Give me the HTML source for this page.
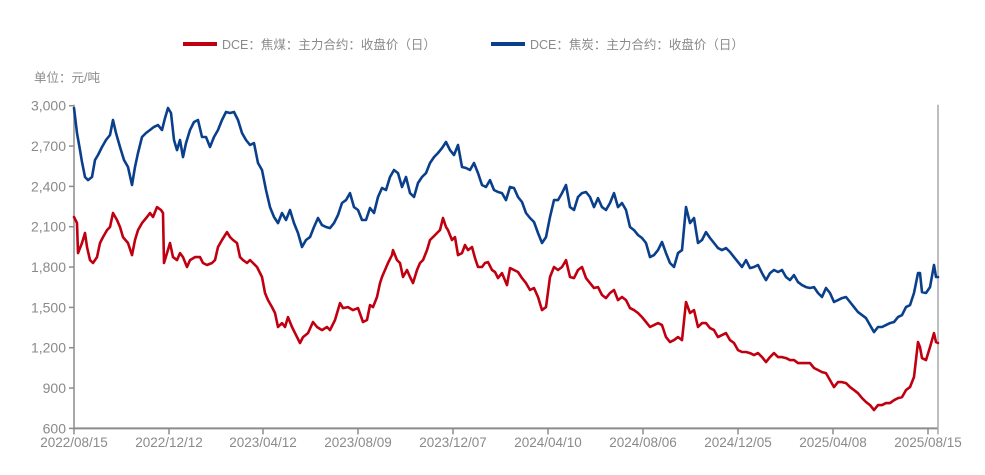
<!DOCTYPE html>
<html><head><meta charset="utf-8">
<style>
html,body{margin:0;padding:0;background:#fff;}
#wrap{position:relative;width:985px;height:475px;overflow:hidden;font-family:"Liberation Sans","Noto Sans CJK SC",sans-serif;}
svg text{font-family:"Liberation Sans","Noto Sans CJK SC",sans-serif;}
</style></head>
<body>
<div id="wrap">
<svg id="chart" width="985" height="475">
  <g>
    <g>
      <line x1="183" y1="44" x2="217" y2="44" stroke="#c00011" stroke-width="4"/>
      <text x="222" y="49" font-size="12.5" fill="#8a8a8a">DCE：焦煤：主力合约：收盘价（日）</text>
    </g>
    <g>
      <line x1="491" y1="44" x2="525" y2="44" stroke="#0a3f8c" stroke-width="4"/>
      <text x="530" y="49" font-size="12.5" fill="#8a8a8a">DCE：焦炭：主力合约：收盘价（日）</text>
    </g>
  </g>
  <text x="34" y="82" font-size="12.5" fill="#8a8a8a">单位：元/吨</text>
  <g id="axes"></g>
  <g id="series"></g>
</svg>
</div>
<script>
const yTicks = [600, 900, 1200, 1500, 1800, 2100, 2400, 2700, 3000];
const xTickLabels = ["2022/08/15","2022/12/12","2023/04/12","2023/08/09","2023/12/07","2024/04/10","2024/08/06","2024/12/05","2025/04/08","2025/08/15"];
const xTickDays = [0,95,189,284,379,474,569,664,759,854];

const cokeDays = [0,3,6,8,11,14,18,21,24,28,32,36,39,42,46,50,54,58,61,64,68,72,76,80,84,88,91,94,97,100,103,106,109,112,116,120,124,128,132,136,140,
144,148,152,156,160,164,168,172,176,180,184,188,192,196,200,204,208,212,216,220,224,228,232,236,240,244,248,252,256,260,264,268,272,276,280,284,288,
292,296,300,304,308,312,316,320,324,328,332,336,340,344,348,352,356,360,364,368,372,376,380,384,388,392,396,400,404,408,412,416,420,424,428,432,
436,440,444,448,452,456,460,464,468,472,476,480,484,488,492,496,500,504,508,512,516,520,524,528,532,536,540,544,548,552,556,560,564,568,572,576,580,584,588,592,596,600,604,608,612,616,620,624,628,632,636,640,644,648,652,656,660,664,668,672,676,680,684,688,692,696,700,704,708,712,716,720,724,728,732,736,740,744,748,752,756,760,764,768,772,776,780,784,788,792,796,800,804,808,812,816,820,824,828,832,836,840,844,846,848,852,856,860,862,864];
const cokeValues = [2983,2797,2670,2581,2470,2447,2470,2596,2633,2693,2745,2782,2894,2797,2693,2596,2544,2410,2544,2648,2767,2797,2819,2842,2856,2819,2908,2983,2946,2745,2670,2745,2618,2722,2819,2879,2894,2767,2767,2693,2767,
2819,2894,2953,2946,2953,2894,2797,2745,2708,2722,2574,2522,2373,2246,2172,2127,2202,2150,2224,2127,2053,1949,2001,2023,2098,2165,2112,2098,2090,2127,2187,2276,2298,2350,2246,2224,2150,
2150,2239,2202,2321,2388,2373,2470,2522,2499,2395,2470,2350,2321,2425,2470,2499,2574,2618,2648,2685,2730,2670,2633,2708,2544,2537,2522,2574,2499,2410,2395,2447,2373,2358,2350,2298,
2395,2388,2321,2284,2202,2165,2135,2053,1979,2023,2172,2298,2298,2350,2410,2246,2224,2321,2350,2358,2321,2246,2313,2246,2224,2276,2350,2246,2276,2224,2098,2075,2038,2016,1979,1874,1889,1926,1986,1904,1830,1800,1904,1926,2246,2127,2165,1979,2001,2060,2016,1979,1941,1926,1941,1912,1874,1837,1800,1852,1792,1800,1815,1755,1703,1755,1778,1763,1778,1726,1703,1740,1688,1666,1651,1644,1651,1607,1577,1644,1607,1540,1554,1569,1577,1540,1502,1465,1443,1420,1368,1316,1354,1354,1368,1383,1391,1428,1443,1502,1517,1607,1755,1755,1614,1607,1651,1815,1726,1726];

const coalDays = [0,3,4,8,11,13,16,19,23,26,29,33,36,39,43,46,49,54,58,61,64,68,73,76,79,83,87,89,90,93,96,99,103,106,109,113,116,121,126,129,133,138,141,144,
148,153,156,159,163,166,169,173,176,179,183,188,191,194,198,201,204,208,211,214,218,221,226,229,234,239,243,248,253,256,261,266,269,274,279,284,
289,293,296,299,303,306,308,311,314,318,319,323,326,329,333,336,339,343,346,349,353,356,359,363,366,369,372,374,378,381,384,388,391,394,398,401,404,408,411,414,418,421,424,428,433,
436,440,444,448,452,456,460,464,468,472,476,480,484,488,492,496,500,504,508,512,516,520,524,528,532,536,540,544,548,552,556,560,564,568,572,576,580,584,588,592,596,600,604,608,612,616,620,624,628,632,636,640,644,648,652,656,660,664,668,672,676,680,684,688,692,696,700,704,708,712,716,720,724,728,732,736,740,744,748,752,756,760,764,768,772,776,780,784,788,792,796,800,804,808,812,816,820,824,828,832,836,840,844,846,848,852,856,860,862,864];
const coalValues = [2172,2127,1904,1979,2053,1949,1852,1830,1874,1979,2023,2075,2098,2202,2150,2098,2023,1979,1889,2001,2075,2127,2172,2202,2172,2246,2224,2202,1830,1904,1979,1874,1852,1904,1874,1800,1852,1874,1874,1830,1815,1830,1852,1949,
2001,2060,2023,2001,1979,1874,1852,1830,1852,1830,1800,1726,1607,1554,1502,1458,1354,1383,1354,1428,1354,1309,1235,1279,1309,1391,1354,1331,1354,1331,1406,1532,1495,1502,1480,1495,
1391,1406,1517,1502,1577,1681,1726,1778,1830,1889,1926,1852,1830,1726,1778,1726,1681,1778,1830,1852,1926,2001,2023,2053,2075,2165,2098,2075,2001,2023,1889,1904,1964,1926,1949,1867,1800,1800,1830,1837,1778,1763,1718,1755,1666,
1792,1778,1763,1718,1681,1629,1644,1577,1480,1502,1726,1800,1778,1800,1852,1726,1718,1778,1800,1718,1681,1644,1651,1592,1569,1607,1629,1554,1577,1554,1495,1480,1458,1428,1391,1354,1368,1383,1368,1279,1242,1257,1279,1257,1540,1458,1480,1354,1383,1383,1346,1331,1279,1294,1309,1257,1235,1182,1168,1168,1160,1145,1160,1130,1093,1130,1160,1130,1130,1123,1108,1108,1086,1086,1086,1086,1049,1034,1019,1011,959,907,944,944,937,907,885,862,825,796,773,736,773,773,788,788,810,825,833,885,907,982,1242,1205,1123,1108,1205,1309,1242,1235];

const NS = "http://www.w3.org/2000/svg";
const X0 = 74, X1 = 938, Y0 = 428.4, Y1 = 105.7;
const DAY_MAX = 864, V_MIN = 600, V_MAX = 3000;
function xScale(d){ return X0 + (d / DAY_MAX) * (X1 - X0); }
function yScale(v){ return Y0 - (v - V_MIN) / (V_MAX - V_MIN) * (Y0 - Y1); }
function mk(tag, attrs){ const e = document.createElementNS(NS, tag); for (const k in attrs) e.setAttribute(k, attrs[k]); return e; }

const axes = document.getElementById('axes');
const axisColor = "#8c8c8c";
const yAxis = mk('line', {x1:X0, y1:Y1-1, x2:X0, y2:Y0, stroke:axisColor, 'stroke-width':1.5});


axes.appendChild(yAxis);
const xAxis = mk('line', {x1:X0, y1:Y0, x2:X1, y2:Y0, stroke:axisColor, 'stroke-width':2});


axes.appendChild(xAxis);
const rAxis = mk('line', {x1:X1, y1:Y1-1, x2:X1, y2:Y0+6, stroke:"#a8a8a8", 'stroke-width':1.5});


axes.appendChild(rAxis);

yTicks.forEach(v => {
  const y = yScale(v);
  const t = mk('line', {x1:X0-5, y1:y, x2:X0, y2:y, stroke:axisColor, 'stroke-width':1.5});
  
  
  axes.appendChild(t);
  const l = mk('text', {x:X0-8, y:y+5, 'text-anchor':'end', 'font-size':14, fill:'#8a8a8a'});
  l.textContent = v.toLocaleString('en-US');
  
  
  axes.appendChild(l);
});
xTickDays.forEach((d, i) => {
  const x = xScale(d);
  const t = mk('line', {x1:x, y1:Y0, x2:x, y2:Y0+6, stroke:axisColor, 'stroke-width':1.5});
  
  
  axes.appendChild(t);
  const l = mk('text', {x:x, y:447, 'text-anchor':'middle', 'font-size':13.5, fill:'#8a8a8a'});
  l.textContent = xTickLabels[i];
  
  
  axes.appendChild(l);
});

const series = document.getElementById('series');
function drawLine(days, vals, color, name){
  let d = '';
  for (let i = 0; i < vals.length; i++) {
    d += (i ? 'L' : 'M') + xScale(days[i]).toFixed(1) + ' ' + yScale(vals[i]).toFixed(1);
  }
  const p = mk('path', {d:d, fill:'none', stroke:color, 'stroke-width':2.6, 'stroke-linejoin':'round', 'stroke-linecap':'round'});
  
  
  series.appendChild(p);
}
drawLine(cokeDays, cokeValues, '#0a3f8c', 'coke-price-line');
drawLine(coalDays, coalValues, '#c00011', 'coking-coal-price-line');
</script>
</body></html>
